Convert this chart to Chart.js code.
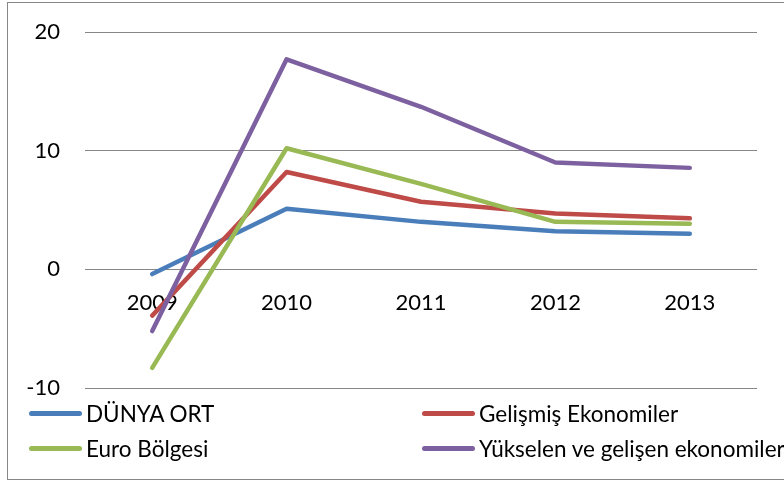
<!DOCTYPE html>
<html>
<head>
<meta charset="utf-8">
<script src="https://cdn.jsdelivr.net/npm/chart.js@4.4.1/dist/chart.umd.min.js"></script>
<style>
  html, body { margin: 0; padding: 0; background: #fff; }
  #wrap { position: relative; width: 784px; height: 483px; overflow: hidden; background: #fff; }
  #frame { position: absolute; left: 7px; top: 2px; width: 900px; height: 478px; border: 1px solid #878787; box-sizing: border-box; }
  canvas { position: absolute; left: 0; top: 0; }
  #legend { position: absolute; left: 0; top: 0; width: 784px; height: 483px; pointer-events: none; font-family: Lato, "Open Sans", sans-serif; font-size: 22.5px; color: #000; }
  .item { position: absolute; display: flex; align-items: center; white-space: nowrap; height: 30px; }
  .sample { width: 53px; height: 5px; border-radius: 3px; margin-right: 4px; }
</style>
</head>
<body>
<div id="wrap">
  <div id="frame"></div>
  <canvas id="c" width="784" height="483"></canvas>
  <div id="legend"></div>
</div>
<script>
const categories = ['2009', '2010', '2011', '2012', '2013'];
const seriesNames = ['DÜNYA ORT', 'Gelişmiş Ekonomiler', 'Euro Bölgesi', 'Yükselen ve gelişen ekonomiler'];
const dunyaOrt = [-0.4, 5.1, 4.0, 3.2, 3.0];
const gelismis = [-3.9, 8.2, 5.7, 4.7, 4.3];
const euroBolgesi = [-8.3, 10.2, 7.2, 4.0, 3.85];
const yukselen = [-5.2, 17.7, 13.7, 9.0, 8.55];
const yTicks = [-10, 0, 10, 20];

const colors = ['#4A7EBB', '#BE4B48', '#98B954', '#7D60A0'];
const values = [dunyaOrt, gelismis, euroBolgesi, yukselen];

const datasets = values.map((v, i) => ({
  label: seriesNames[i],
  data: v,
  borderColor: colors[i],
  backgroundColor: colors[i],
  borderWidth: 4.5,
  pointRadius: 0,
  tension: 0,
  borderCapStyle: 'round',
  borderJoinStyle: 'round',
  order: 4 - i
}));

const font = { family: 'Lato, "Open Sans", sans-serif', size: 22 };

const chart = new Chart(document.getElementById('c'), {
  type: 'line',
  data: { labels: categories, datasets },
  options: {
    responsive: false,
    devicePixelRatio: 1,
    animation: false,
    layout: { padding: { left: 0, right: 27, top: 32, bottom: 95 } },
    plugins: { legend: { display: false }, tooltip: { enabled: false } },
    scales: {
      x: {
        type: 'category',
        offset: true,
        position: { y: 0 },
        grid: { display: false, drawTicks: false },
        border: { display: false },
        ticks: { color: '#000', font, padding: 20, maxRotation: 0, autoSkip: false },
        afterFit(scale) { scale.height = 0; scale.paddingLeft = 0; scale.paddingRight = 0; }
      },
      y: {
        min: -10,
        max: 20,
        afterBuildTicks(scale) { scale.ticks = yTicks.map(v => ({ value: v })); },
        grid: { color: '#878787', lineWidth: 1, drawTicks: false },
        border: { display: false },
        ticks: { color: '#000', font, padding: 25 },
        afterFit(scale) { scale.width = 85; scale.paddingTop = 0; scale.paddingBottom = 0; }
      }
    }
  }
});

// HTML legend built from chart data (two-column layout)
const legendPos = [
  { left: 29, top: 398 },
  { left: 422, top: 398 },
  { left: 29, top: 433 },
  { left: 422, top: 433 }
];
const legendEl = document.getElementById('legend');
chart.data.datasets.forEach((ds, i) => {
  const p = legendPos[i];
  const item = document.createElement('div');
  item.className = 'item';
  item.style.left = p.left + 'px';
  item.style.top = p.top + 'px';
  const s = document.createElement('div');
  s.className = 'sample';
  s.style.background = ds.borderColor;
  const t = document.createElement('span');
  t.textContent = ds.label;
  item.appendChild(s);
  item.appendChild(t);
  legendEl.appendChild(item);
});
</script>
</body>
</html>
